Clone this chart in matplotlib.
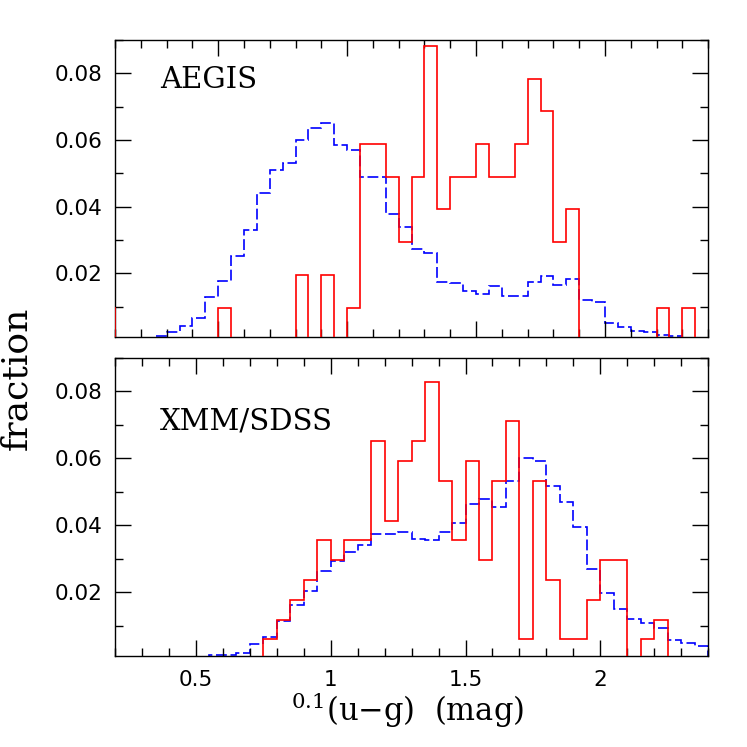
"""Rest-frame (u-g) colour distributions: AEGIS and XMM/SDSS panels."""

import matplotlib
matplotlib.use("Agg")
import matplotlib.pyplot as plt
import numpy as np
from matplotlib.ticker import MultipleLocator

# histogram grid: bins of 0.05 mag starting at 0.05
BIN_START = 0.05
BIN_WIDTH = 0.05

aegis_agn = [
    0.0098, 0, 0, 0, 0, 0, 0, 0, 0, 0.0098,
    0, 0, 0, 0, 0, 0.0196, 0, 0.0196, 0, 0.0098,
    0.0588, 0.0588, 0.049, 0.0294, 0.049, 0.0882, 0.0392, 0.049, 0.049, 0.0588,
    0.049, 0.049, 0.0588, 0.0784, 0.0686, 0.0294, 0.0392, 0, 0, 0,
    0, 0, 0, 0.0098, 0, 0.0098, 0,
]
aegis_all = [
    0, 0, 0, 0, 0.0013, 0.0025, 0.0043, 0.0067, 0.0131, 0.0178,
    0.0251, 0.033, 0.044, 0.051, 0.053, 0.060, 0.0636, 0.065, 0.0585, 0.057,
    0.049, 0.049, 0.0379, 0.034, 0.0272, 0.026, 0.0175, 0.0173, 0.0148, 0.0138,
    0.0163, 0.0133, 0.0133, 0.0175, 0.0193, 0.0167, 0.0182, 0.012, 0.0115, 0.0053,
    0.004, 0.0027, 0.0025, 0.0015, 0.0013, 0, 0,
]
xmm_agn = [
    0, 0, 0, 0, 0, 0, 0, 0, 0, 0,
    0, 0, 0, 0, 0.0059, 0.0118, 0.0178, 0.0237, 0.0355, 0.0296,
    0.0355, 0.0355, 0.0651, 0.0414, 0.0592, 0.0651, 0.0828, 0.0533, 0.0355, 0.0592,
    0.0296, 0.0533, 0.071, 0.0059, 0.0533, 0.0237, 0.0059, 0.0059, 0.0178, 0.0296,
    0.0296, 0, 0.0059, 0.0118, 0, 0, 0,
]
xmm_all = [
    0, 0, 0, 0, 0, 0, 0, 0, 0, 0,
    0.0012, 0.0012, 0.002, 0.0045, 0.0067, 0.0114, 0.0162, 0.0205, 0.0262, 0.0292,
    0.032, 0.034, 0.0374, 0.0374, 0.038, 0.036, 0.0357, 0.038, 0.0407, 0.0464,
    0.0477, 0.0455, 0.0532, 0.0602, 0.0592, 0.0518, 0.047, 0.0394, 0.027, 0.0197,
    0.015, 0.0119, 0.0109, 0.0094, 0.0057, 0.0049, 0.004,
]

panels = [
    ("AEGIS", aegis_all, aegis_agn, (0.1, 2.4), 0.838),
    ("XMM/SDSS", xmm_all, xmm_agn, (0.2, 2.4), 0.758),
]

plt.rcParams["mathtext.fontset"] = "dejavuserif"
TEXT_FONT = "DejaVu Serif"

fig = plt.figure(figsize=(7.47, 7.47), dpi=100)
ax_top = fig.add_axes([0.154, 0.549, 0.794, 0.3976])
ax_bot = fig.add_axes([0.154, 0.122, 0.794, 0.399])

n_bins = len(aegis_agn)
edges = np.round(BIN_START + BIN_WIDTH * np.arange(n_bins + 1), 3)

for ax, (name, all_vals, agn_vals, xlim, label_y) in zip([ax_top, ax_bot], panels):
    ax.stairs(all_vals, edges, color="#0000ff", lw=1.2, linestyle=(0, (6.5, 2.2)))
    ax.stairs(agn_vals, edges, color="#ff0000", lw=1.2, zorder=3)
    ax.set_xlim(*xlim)
    ax.set_ylim(0.001, 0.09)
    ax.xaxis.set_major_locator(MultipleLocator(0.5))
    ax.xaxis.set_minor_locator(MultipleLocator(0.1))
    ax.yaxis.set_minor_locator(MultipleLocator(0.01))
    ax.set_yticks([0.02, 0.04, 0.06, 0.08])
    ax.set_yticklabels(["0.02", "0.04", "0.06", "0.08"])
    ax.tick_params(which="both", direction="in", top=True, right=True, width=1.0)
    ax.tick_params(which="major", length=11.5)
    ax.tick_params(which="minor", length=5.8)
    ax.tick_params(axis="y", labelsize=15.5, pad=9)
    ax.tick_params(axis="x", labelsize=15.5, pad=10)
    for sp in ax.spines.values():
        sp.set_linewidth(1.0)
    ax.text(0.076, label_y, name, transform=ax.transAxes, fontsize=21,
            family=TEXT_FONT, va="baseline", ha="left")

ax_top.tick_params(axis="x", labelbottom=False)
ax_bot.set_xticks([0.5, 1.0, 1.5, 2.0])
ax_bot.set_xticklabels(["0.5", "1", "1.5", "2"])

fig.text(0.545, 0.035, r"$^{0.1}$(u−g)  (mag)", fontsize=22, family=TEXT_FONT,
         ha="center", va="baseline")
fig.text(0.022, 0.494, "fraction", fontsize=26, family=TEXT_FONT,
         rotation=90, ha="center", va="center")

fig.savefig("out.png", dpi=100)
plt.close(fig)
